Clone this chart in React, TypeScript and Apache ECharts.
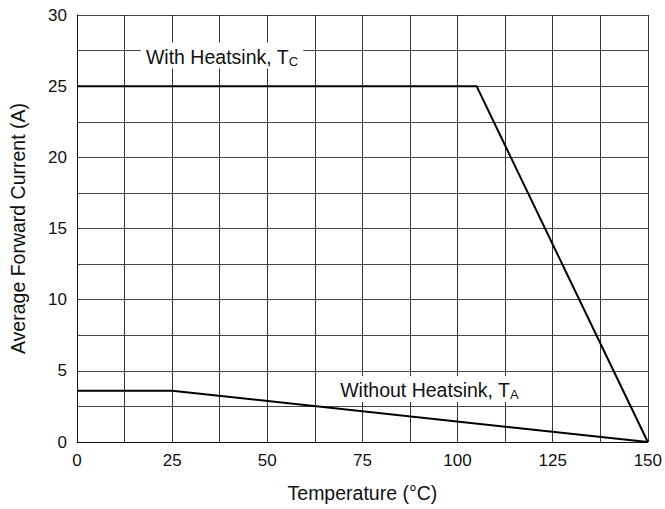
import React, { useEffect, useRef } from "react";
import * as echarts from "echarts";

const withHeatsinkX = [0, 105, 150];
const withHeatsinkY = [25, 25, 0];
const withoutHeatsinkX = [0, 25, 150];
const withoutHeatsinkY = [3.6, 3.6, 0];
const xTicks = [0, 25, 50, 75, 100, 125, 150];
const yTicks = [0, 5, 10, 15, 20, 25, 30];
const labelWith = { x: 38.1, y: 27.15 };
const labelWithout = { x: 92.6, y: 3.72 };

const FONT = "Liberation Sans, Arial, sans-serif";

export default function App() {
  const ref = useRef<HTMLDivElement>(null);
  useEffect(() => {
    if (!ref.current) return;
    const chart = echarts.init(ref.current, null, { renderer: "svg" });
    const pair = (xs: number[], ys: number[]) => xs.map((x, i) => [x, ys[i]]);
    const rich = {
      a: { fontSize: 19.5, color: "#111", fontFamily: FONT },
      b: { fontSize: 13, color: "#111", fontFamily: FONT, padding: [9, 0, 0, 0] },
    };
    const annot = (pos: { x: number; y: number }, main: string, sub: string) => ({
      symbol: "circle",
      symbolSize: 1,
      itemStyle: { color: "rgba(0,0,0,0)" },
      data: [
        {
          coord: [pos.x, pos.y],
          label: {
            show: true,
            position: "inside",
            formatter: `{a|${main}}{b|${sub}}`,
            backgroundColor: "#fff",
            padding: [3, 5, 1, 5],
            rich,
          },
        },
      ],
    });
    chart.setOption({
      animation: false,
      grid: { left: 73, right: 17, top: 15, bottom: 67 },
      xAxis: {
        type: "value",
        min: 0,
        max: 150,
        interval: 12.5,
        name: "Temperature (°C)",
        nameLocation: "middle",
        nameGap: 41,
        nameTextStyle: { fontSize: 19.5, color: "#111", fontFamily: FONT },
        axisLine: { lineStyle: { color: "#111", width: 1 } },
        axisTick: { show: false },
        axisLabel: {
          fontSize: 17,
          color: "#111",
          fontFamily: FONT,
          margin: 10,
          formatter: (v: number) => (xTicks.includes(v) ? String(v) : ""),
        },
        splitLine: { show: true, lineStyle: { color: "#333", width: 1 } },
      },
      yAxis: {
        type: "value",
        min: 0,
        max: 30,
        interval: 2.5,
        name: "Average Forward Current (A)",
        nameLocation: "middle",
        nameGap: 49,
        nameTextStyle: { fontSize: 19.5, color: "#111", fontFamily: FONT },
        axisLine: { show: true, lineStyle: { color: "#111", width: 1 } },
        axisTick: { show: false },
        axisLabel: {
          fontSize: 17,
          color: "#111",
          fontFamily: FONT,
          margin: 10,
          formatter: (v: number) => (yTicks.includes(v) ? String(v) : ""),
        },
        splitLine: { show: true, lineStyle: { color: "#444", width: 1 } },
      },
      series: [
        {
          type: "line",
          data: pair(withHeatsinkX, withHeatsinkY),
          symbol: "none",
          lineStyle: { color: "#000", width: 2 },
          markPoint: annot(labelWith, "With Heatsink, T", "C"),
          z: 3,
        },
        {
          type: "line",
          data: pair(withoutHeatsinkX, withoutHeatsinkY),
          symbol: "none",
          lineStyle: { color: "#000", width: 2 },
          markPoint: annot(labelWithout, "Without Heatsink, T", "A"),
          z: 3,
        },
      ],
    });
    return () => chart.dispose();
  }, []);
  return (
    <div
      ref={ref}
      style={{ position: "fixed", left: 0, top: 0, width: 665, height: 509, background: "#fff" }}
    />
  );
}
